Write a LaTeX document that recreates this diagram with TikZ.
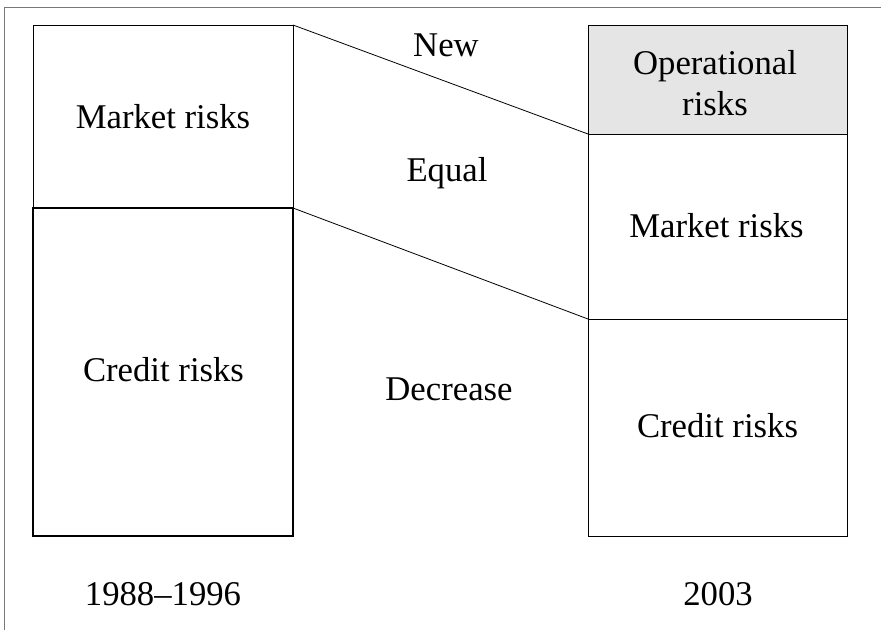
\documentclass[tikz,border=0pt]{standalone}
\usepackage{fontspec}
\setmainfont{Liberation Serif}
\definecolor{opfill}{RGB}{229,229,229}
\definecolor{framegray}{RGB}{120,120,120}
\begin{document}
\begin{tikzpicture}[x=1pt,y=-1pt,
  riskbox/.style={draw=black,line width=0.8pt,inner sep=0pt,outer sep=0pt,rectangle},
  thickbox/.style={draw=black,line width=2pt,inner sep=0pt,outer sep=0pt,rectangle},
  lbl/.style={font=\fontsize{34.7}{41}\selectfont,inner sep=0pt,anchor=base,align=center},
  link/.style={draw=black,line width=0.8pt}]
\useasboundingbox (0,0) rectangle (881,630);
\draw[framegray,line width=1pt] (4.5,630) -- (4.5,7) -- (881,7);
% left column
\node[riskbox,minimum width=260pt,minimum height=183pt] (lm) at (163,116.5) {};
\node[thickbox,minimum width=260pt,minimum height=328pt] (lc) at (163,372) {};
% right column
\node[riskbox,fill=opfill,minimum width=259pt,minimum height=109pt] (ro) at (717.5,79.5) {};
\node[riskbox,minimum width=259pt,minimum height=185pt] (rm) at (717.5,226.5) {};
\node[riskbox,minimum width=259pt,minimum height=217pt] (rc) at (717.5,427.5) {};
% connectors
\draw[link] (lm.north east) -- (ro.south west);
\draw[link] (lc.north east) -- (rm.south west);
% labels
\node[lbl] (tlm) at (163,128) {Market risks};
\node[lbl] (tlc) at (163.5,381) {Credit risks};
\node[lbl] (tro1) at (715,74) {Operational};
\node[lbl] (tro2) at (715,115) {risks};
\node[lbl] (trm) at (716.5,237) {Market risks};
\node[lbl] (trc) at (717.5,437) {Credit risks};
\node[lbl] (tnew) at (446,56) {New};
\node[lbl] (teq) at (447,181) {Equal};
\node[lbl] (tdec) at (449,400) {Decrease};
\node[lbl] (ty1) at (163,605) {1988--1996};
\node[lbl] (ty2) at (718,605) {2003};
\end{tikzpicture}
\end{document}
